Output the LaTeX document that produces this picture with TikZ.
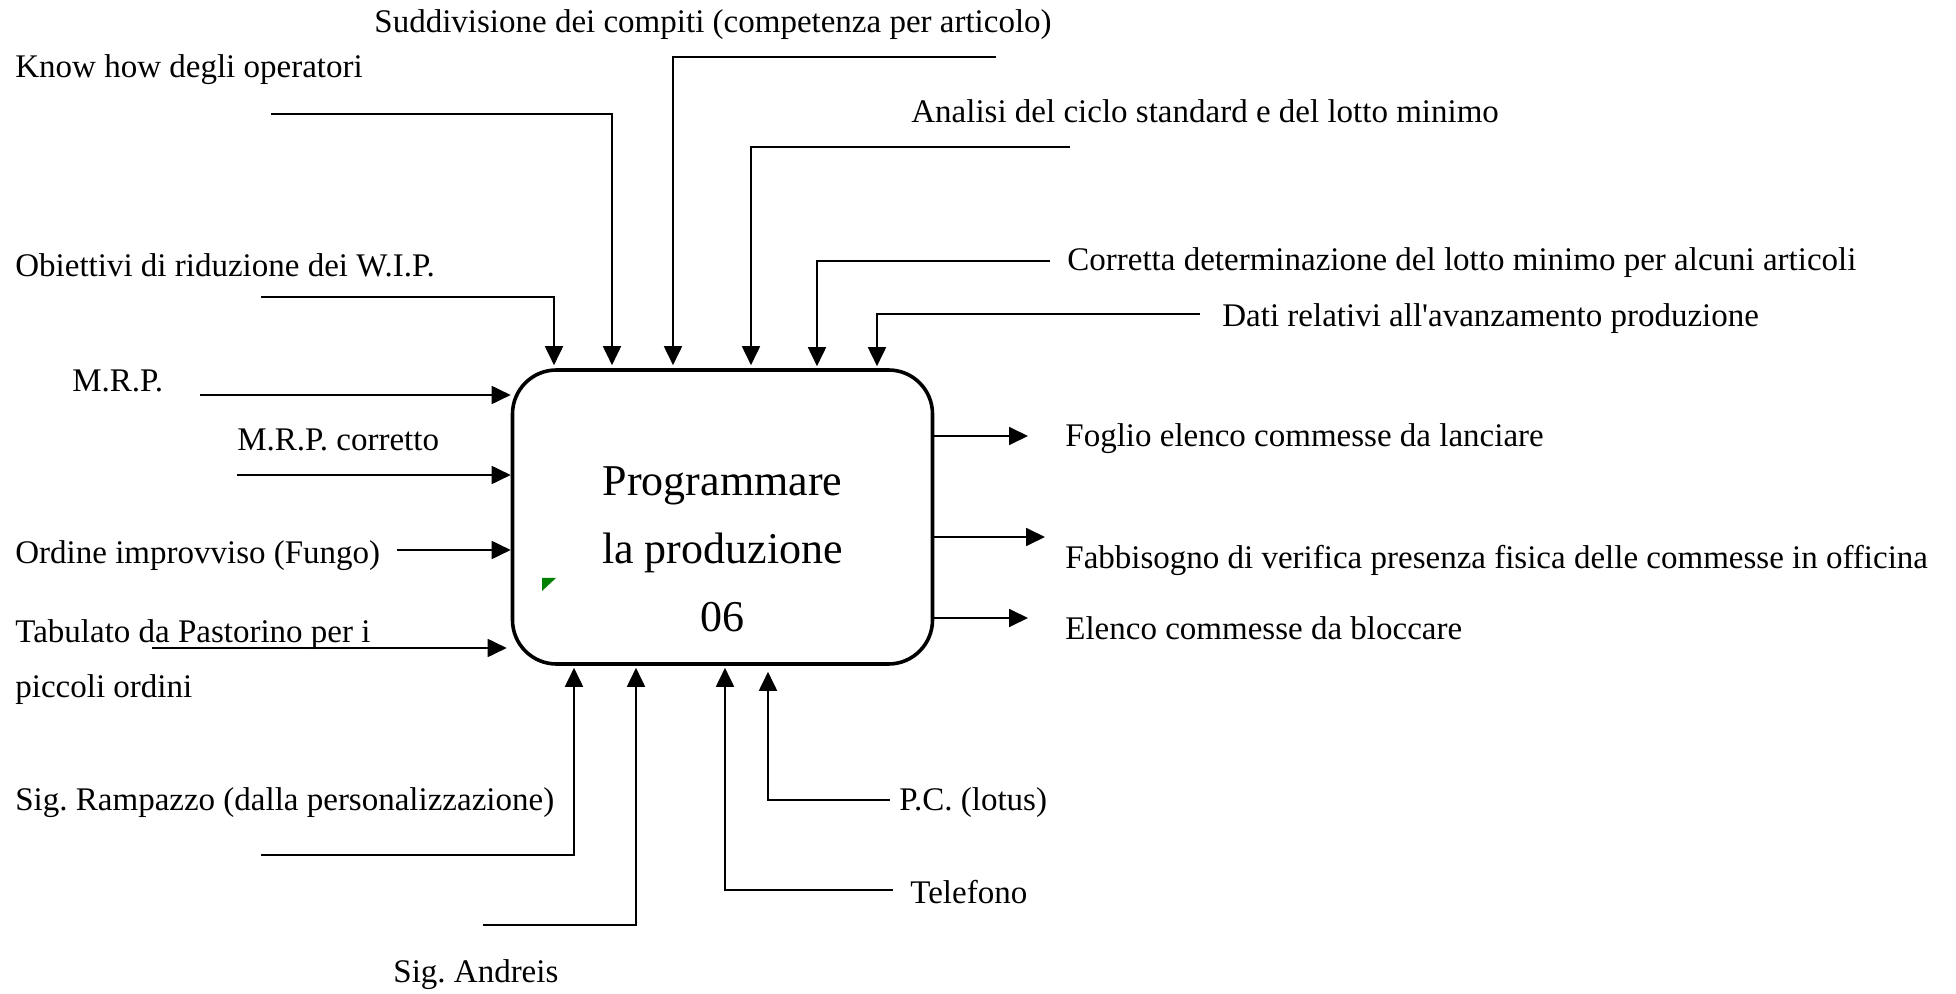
\documentclass[tikz,border=0pt]{standalone}
\usepackage{fontspec}
\setmainfont{Liberation Serif}
\usetikzlibrary{arrows.meta}
\definecolor{idefgreen}{HTML}{008000}

\begin{document}
\begin{tikzpicture}[x=0.5pt, y=-0.5pt,
    lbl/.style={font=\fontsize{16.5}{19.5}\selectfont, inner sep=0pt, anchor=west},
    wire/.style={line width=0.9pt},
    flow/.style={wire, -{Triangle[length=9.5pt, width=9pt]}},
    activity/.style={draw, line width=1.8pt, rounded corners=22pt,
      minimum width=210pt, minimum height=147pt, inner sep=0pt}]
  \useasboundingbox (0,0) rectangle (1956,994);

  % Activity box
  \node[activity] (prog) at (722.5,517) {};
  \node[font=\fontsize{22}{34}\selectfont, align=center] (progtxt)
    at (722.5,549) {Programmare\\la produzione\\06};
  \fill[idefgreen] (542,578) -- (556,578) -- (542,591) -- cycle;

  % Controls (top)
  \node[lbl] (wipL) at (15,265) {Obiettivi di riduzione dei W.I.P.};
  \coordinate (wip) at (261,297);
  \coordinate (wipB) at (554,297);
  \draw[flow, shorten >=1.5pt] (wip) -- (wipB) -- (wipB |- prog.north);

  \node[lbl] (knowL) at (15,70) {Know how degli operatori};
  \coordinate (know) at (271,114);
  \coordinate (knowB) at (612,114);
  \draw[flow, shorten >=1.5pt] (know) -- (knowB) -- (knowB |- prog.north);

  \node[lbl] (compL) at (374,25) {Suddivisione dei compiti (competenza per articolo)};
  \coordinate (comp) at (996,57);
  \coordinate (compB) at (673,57);
  \draw[flow, shorten >=1.5pt] (comp) -- (compB) -- (compB |- prog.north);

  \node[lbl] (cicloL) at (911,111) {Analisi del ciclo standard e del lotto minimo};
  \coordinate (ciclo) at (1070,147);
  \coordinate (cicloB) at (751,147);
  \draw[flow, shorten >=1.5pt] (ciclo) -- (cicloB) -- (cicloB |- prog.north);

  \node[lbl] (lottoL) at (1067,263) {Corretta determinazione del lotto minimo per alcuni articoli};
  \coordinate (lotto) at (1050,261);
  \coordinate (lottoB) at (817,261);
  \draw[flow, shorten >=1pt] (lotto) -- (lottoB) -- (lottoB |- prog.north);

  \node[lbl] (datiL) at (1222,319) {Dati relativi all\textquotesingle avanzamento produzione};
  \coordinate (dati) at (1200,314);
  \coordinate (datiB) at (877,314);
  \draw[flow, shorten >=1pt] (dati) -- (datiB) -- (datiB |- prog.north);

  % Inputs (left)
  \node[lbl] (mrpL) at (72,381) {M.R.P.};
  \coordinate (mrp) at (200,395);
  \draw[flow] (mrp) -- (mrp -| prog.west);

  \node[lbl] (mrpcL) at (237,440) {M.R.P. corretto};
  \coordinate (mrpc) at (237,475);
  \draw[flow] (mrpc) -- (mrpc -| prog.west);

  \node[lbl] (fungoL) at (15,556) {Ordine improvviso (Fungo)};
  \coordinate (fungo) at (397,550);
  \draw[flow] (fungo) -- (fungo -| prog.west);

  \node[lbl, align=left, font=\fontsize{16.5}{27.5}\selectfont] (tabL) at (15,662)
    {Tabulato da Pastorino per i\\piccoli ordini};
  \coordinate (tab) at (152,648);
  \draw[flow, shorten >=2pt] (tab) -- (tab -| prog.west);

  % Outputs (right)
  \coordinate (foglio) at (1028,436);
  \node[lbl] (foglioL) at (1065,439) {Foglio elenco commesse da lanciare};
  \draw[flow] (foglio -| prog.east) -- (foglio);

  \coordinate (fabb) at (1045,537);
  \node[lbl] (fabbL) at (1065,560) {Fabbisogno di verifica presenza fisica delle commesse in officina};
  \draw[flow] (fabb -| prog.east) -- (fabb);

  \coordinate (blocco) at (1028,618);
  \node[lbl] (bloccoL) at (1065,628) {Elenco commesse da bloccare};
  \draw[flow] (blocco -| prog.east) -- (blocco);

  % Mechanisms (bottom)
  \node[lbl] (rampL) at (15,803) {Sig.\ Rampazzo (dalla personalizzazione)};
  \coordinate (ramp) at (261,855);
  \coordinate (rampB) at (574,855);
  \draw[flow, shorten >=1pt] (ramp) -- (rampB) -- (rampB |- prog.south);

  \node[lbl] (andrL) at (393,975) {Sig.\ Andreis};
  \coordinate (andr) at (483,925);
  \coordinate (andrB) at (636,925);
  \draw[flow, shorten >=1pt] (andr) -- (andrB) -- (andrB |- prog.south);

  \node[lbl] (telL) at (910,892) {Telefono};
  \coordinate (tel) at (893,890);
  \coordinate (telB) at (725,890);
  \draw[flow, shorten >=1pt] (tel) -- (telB) -- (telB |- prog.south);

  \node[lbl] (pcL) at (899,803) {P.C. (lotus)};
  \coordinate (pc) at (890,800);
  \coordinate (pcB) at (768,800);
  \draw[flow, shorten >=3pt] (pc) -- (pcB) -- (pcB |- prog.south);
\end{tikzpicture}
\end{document}
